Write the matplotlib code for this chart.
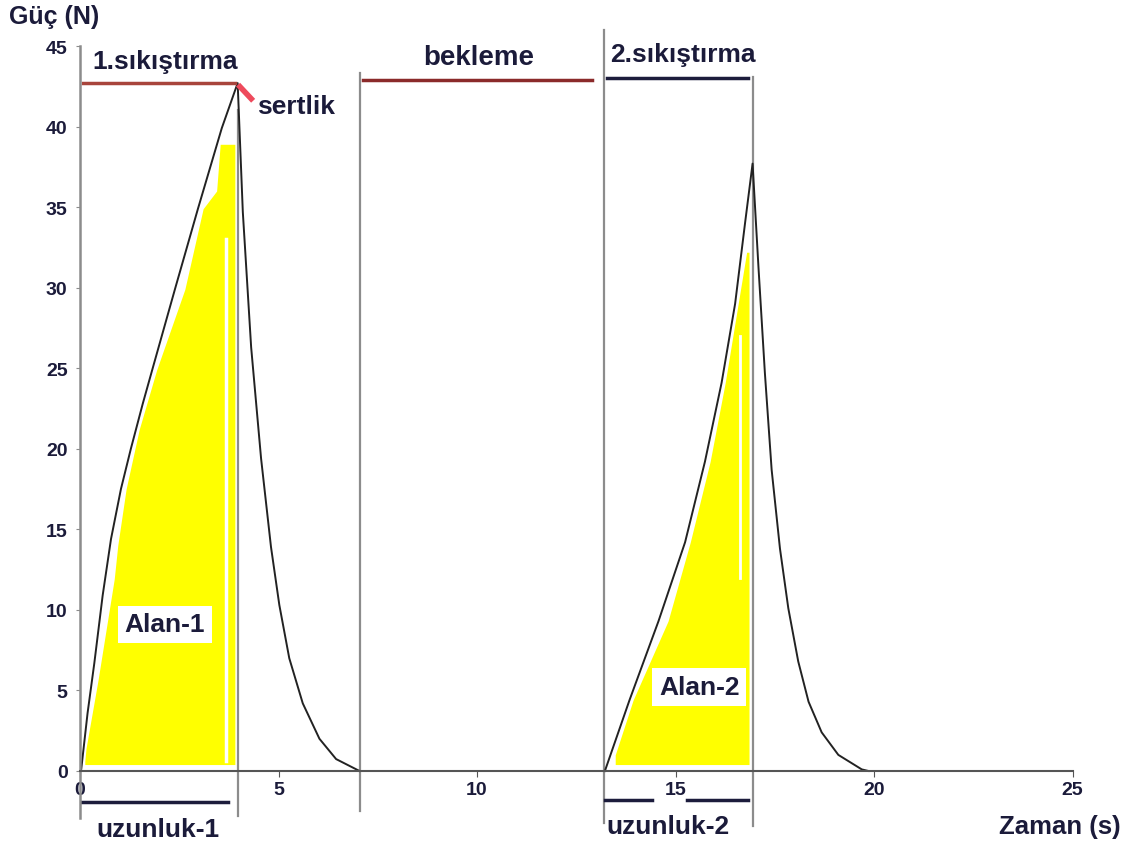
import numpy as np
import matplotlib.pyplot as plt

plt.rcParams['font.family'] = ['Liberation Sans', 'DejaVu Sans']

# 1. sıkıştırma eğrisi (Zaman s, Güç N)
t1_up = [0, 0.03, 0.19, 0.36, 0.57, 0.78, 1.03, 1.28, 1.58, 1.83, 2.39, 2.97, 3.57, 3.97]
f1_up = [0, 0.1, 3.6, 6.7, 10.9, 14.4, 17.5, 20.0, 22.8, 25.0, 29.9, 34.9, 39.9, 42.7]
t1_down = [3.97, 4.10, 4.31, 4.56, 4.81, 5.02, 5.27, 5.61, 6.03, 6.45, 7.04]
f1_down = [42.7, 34.7, 26.3, 19.4, 13.9, 10.3, 7.0, 4.2, 2.0, 0.74, 0]

# 2. sıkıştırma eğrisi
t2_up = [13.22, 13.84, 14.57, 15.24, 15.74, 16.16, 16.50, 16.75, 16.94]
f2_up = [0, 4.4, 9.3, 14.2, 19.2, 24.1, 29.0, 34.0, 37.7]
t2_down = [16.94, 17.09, 17.25, 17.42, 17.63, 17.84, 18.09, 18.35, 18.68, 19.10, 19.69, 19.86]
f2_down = [37.7, 31.2, 24.7, 18.7, 13.8, 10.1, 6.8, 4.3, 2.4, 1.0, 0.1, 0]

# sarı alanlar (üst sınır)
area1_t = [0.12, 0.15, 0.45, 0.86, 0.95, 1.16, 1.49, 1.93, 2.64, 3.10, 3.44, 3.53, 3.90]
area1_top = [0.6, 1.4, 5.6, 11.9, 14.0, 17.5, 21.2, 24.9, 29.9, 34.9, 36.0, 38.9, 38.9]
area2_t = [13.48, 13.93, 14.81, 15.37, 15.87, 16.25, 16.79, 16.85]
area2_top = [1.0, 4.4, 9.3, 14.2, 19.2, 24.1, 32.2, 32.2]
area_bottom = 0.4

# dikey ayırıcı çizgiler: (t, alt, üst)
vlines = [(3.98, -2.8, 41.0), (7.05, -2.5, 43.3), (13.2, -3.2, 46.0), (16.95, -3.4, 43.1)]

xticks = [0, 5, 10, 15, 20, 25]
yticks = [0, 5, 10, 15, 20, 25, 30, 35, 40, 45]

txt = '#1b1b3a'
fig = plt.figure(figsize=(11.21, 8.45), dpi=100)
ax = fig.add_axes([0.0714, 0.0025, 0.8854, 0.98])
ax.set_xlim(0, 25)
ax.set_ylim(-4.4, 47)

# sarı alanlar
ax.fill_between(area1_t, area_bottom, area1_top, color='#ffff00', lw=0)
ax.fill_between(area2_t, area_bottom, area2_top, color='#ffff00', lw=0)
ax.plot([3.67, 3.67], [0.6, 33], color='white', lw=2.5)
ax.plot([16.62, 16.62], [12, 27], color='white', lw=2)

for t, lo, hi in vlines:
    ax.plot([t, t], [lo, hi], color='#8c8c8c', lw=1.6, clip_on=False)

# eğriler
ax.plot(t1_up + t1_down[1:], f1_up + f1_down[1:], color='#222222', lw=1.4)
ax.plot(t2_up + t2_down[1:], f2_up + f2_down[1:], color='#222222', lw=1.4)

# üst çizgiler ve başlıklar
ax.plot([0.07, 3.9], [42.7, 42.7], color='#a8443c', lw=2.5)
ax.plot([7.13, 12.9], [42.9, 42.9], color='#8b2a2a', lw=2.5)
ax.plot([13.27, 16.83], [43.0, 43.0], color='#1c1c3c', lw=2.5)
ax.plot([3.98, 4.36], [42.6, 41.6], color='#ee4a5c', lw=4, solid_capstyle='butt')
fs = 19
ax.text(2.14, 44.1, '1.sıkıştırma', ha='center', va='center', fontsize=fs, fontweight='bold', color=txt)
ax.text(10.03, 44.3, 'bekleme', ha='center', va='center', fontsize=20, fontweight='bold', color=txt)
ax.text(15.19, 44.5, '2.sıkıştırma', ha='center', va='center', fontsize=fs, fontweight='bold', color=txt)
ax.text(4.45, 41.3, 'sertlik', ha='left', va='center', fontsize=fs, fontweight='bold', color=txt)

# alan etiketleri
box = dict(facecolor='white', edgecolor='none', pad=5)
ax.text(2.14, 9.1, 'Alan-1', ha='center', va='center', fontsize=fs, fontweight='bold', color=txt, bbox=box)
ax.text(15.6, 5.2, 'Alan-2', ha='center', va='center', fontsize=fs, fontweight='bold', color=txt, bbox=box)

# alt çizgiler
ax.plot([0.05, 3.73], [-1.93, -1.93], color='#1c1c3c', lw=2.5, clip_on=False)
ax.plot([13.22, 14.41], [-1.8, -1.8], color='#1c1c3c', lw=2.5, clip_on=False)
ax.plot([15.29, 16.83], [-1.8, -1.8], color='#1c1c3c', lw=2.5, clip_on=False)
ax.text(1.96, -3.6, 'uzunluk-1', ha='center', va='center', fontsize=fs, fontweight='bold', color=txt)
ax.text(14.8, -3.4, 'uzunluk-2', ha='center', va='center', fontsize=fs, fontweight='bold', color=txt)

# eksenler
for s in ['top', 'right']:
    ax.spines[s].set_visible(False)
ax.spines['left'].set_position(('data', 0))
ax.spines['bottom'].set_position(('data', 0))
ax.spines['left'].set_bounds(-2.9, 45)
ax.spines['bottom'].set_bounds(0, 25)
ax.spines['left'].set_color('#8c8c8c')
ax.spines['bottom'].set_color('#555555')
ax.spines['left'].set_linewidth(1.8)
ax.spines['bottom'].set_linewidth(1.5)
ax.set_xticks(xticks)
ax.set_yticks(yticks)
ax.tick_params(axis='y', length=3, pad=6, labelsize=14, colors='#8c8c8c', labelcolor=txt)
ax.tick_params(axis='x', length=4, pad=3, labelsize=14, colors='#555555', labelcolor=txt)
for lab in ax.get_xticklabels() + ax.get_yticklabels():
    lab.set_fontweight('bold')

fig.text(9 / 1121, 1 - 17 / 845, 'Güç (N)', ha='left', va='center', fontsize=18, fontweight='bold', color=txt)
ax.text(24.68, -3.4, 'Zaman (s)', ha='center', va='center', fontsize=18.5, fontweight='bold', color=txt)

fig.savefig('out.png', dpi=100)
